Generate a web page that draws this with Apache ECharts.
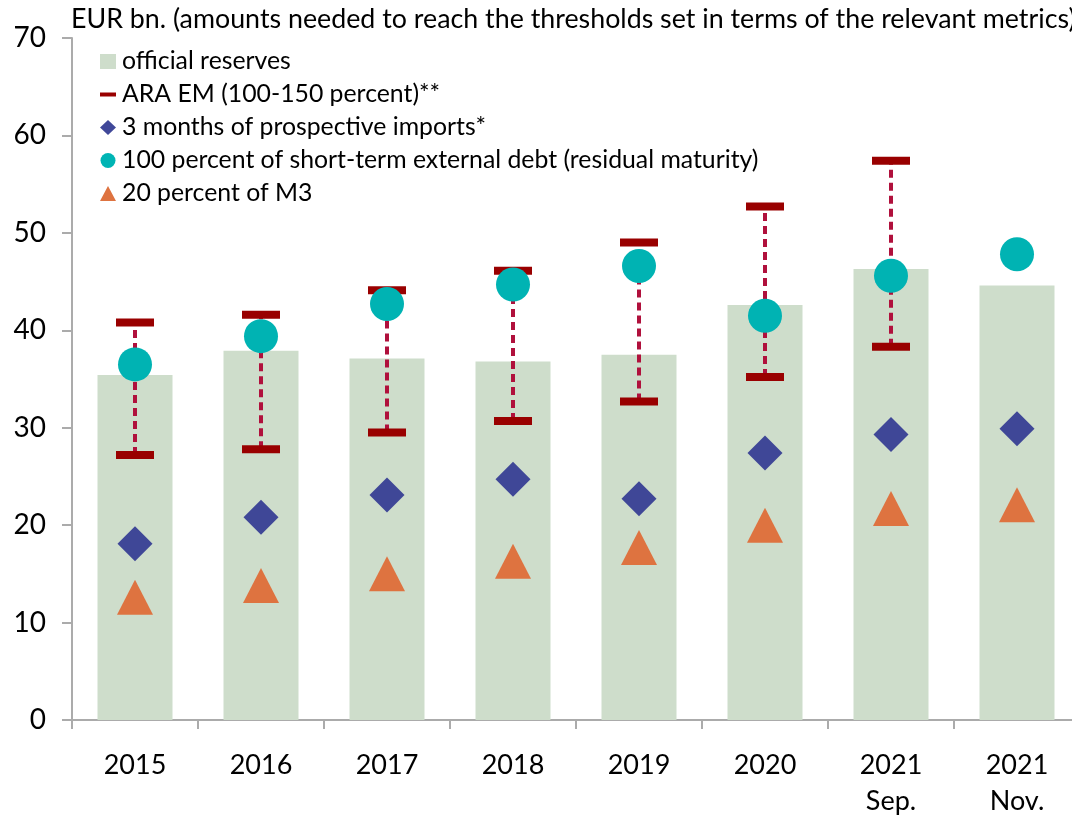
<!DOCTYPE html>
<html>
<head>
<meta charset="utf-8">
<script src="https://cdn.jsdelivr.net/npm/echarts@6/dist/echarts.min.js"></script>
<style>
html,body{margin:0;padding:0;background:#fff;}
#chart{width:1072px;height:816px;}
</style>
</head>
<body>
<div id="chart"></div>
<script>
var categories = ['2015','2016','2017','2018','2019','2020','2021\nSep.','2021\nNov.'];
var officialReserves = [35.4, 37.9, 37.1, 36.8, 37.5, 42.6, 46.3, 44.6];
var araLow  = [27.2, 27.8, 29.5, 30.7, 32.7, 35.2, 38.3, null];
var araHigh = [40.8, 41.6, 44.1, 46.1, 49.0, 52.7, 57.4, null];
var imports3m = [18.1, 20.8, 23.1, 24.7, 22.7, 27.4, 29.3, 29.9];
var stDebt = [36.5, 39.4, 42.7, 44.7, 46.6, 41.5, 45.6, 47.8];
var m3_20 = [12.6, 13.8, 15.0, 16.3, 17.7, 20.0, 21.7, 22.1];
var yTicks = [0, 10, 20, 30, 40, 50, 60, 70];

var names = {
  res: 'official reserves',
  ara: 'ARA EM (100-150 percent)**',
  imp: '3 months of prospective imports*',
  std: '100 percent of short-term external debt (residual maturity)',
  m3: '20 percent of M3'
};

var araData = [];
for (var i = 0; i < categories.length; i++) {
  if (araLow[i] != null && araHigh[i] != null) araData.push([i, araLow[i], araHigh[i]]);
}

var FONT = 'Lato';
var chart = echarts.init(document.getElementById('chart'), null, {renderer: 'canvas'});
chart.setOption({
  animation: false,
  backgroundColor: '#ffffff',
  textStyle: {fontFamily: FONT},
  title: {
    text: 'EUR bn. (amounts needed to reach the thresholds set in terms of the relevant metrics)',
    left: 66, top: 1,
    textStyle: {fontFamily: FONT, fontSize: 26.8, fontWeight: 'normal', color: '#000'}
  },
  legend: {
    orient: 'vertical',
    left: 95, top: 44,
    itemWidth: 16, itemHeight: 15,
    itemGap: 8,
    selectedMode: false,
    textStyle: {fontFamily: FONT, fontSize: 24.8, lineHeight: 25, color: '#000', padding: [0,0,0,1]},
    data: [
      {name: names.res, icon: 'rect', itemStyle: {color: '#CEDDCB'}},
      {name: names.ara, icon: 'path://M0,0h16v4h-16z', itemStyle: {color: '#990000'}},
      {name: names.imp, icon: 'diamond', itemStyle: {color: '#404899'}},
      {name: names.std, icon: 'circle', itemStyle: {color: '#00B4B4'}},
      {name: names.m3, icon: 'triangle', itemStyle: {color: '#DE7340'}}
    ]
  },
  grid: {left: 72, top: 38, width: 1008, height: 682, outerBoundsMode: 'none', containLabel: false},
  xAxis: {
    type: 'category',
    data: categories,
    axisLine: {lineStyle: {color: '#ABABAB', width: 2}},
    axisTick: {show: true, length: 9, lineStyle: {color: '#ABABAB', width: 2}},
    axisLabel: {fontFamily: FONT, fontSize: 27, color: '#000', margin: 27, lineHeight: 36},
    splitLine: {show: false}
  },
  yAxis: {
    type: 'value',
    min: 0, max: 70, interval: 10,
    axisLine: {show: true, lineStyle: {color: '#ABABAB', width: 2}},
    axisTick: {show: true, length: 10, lineStyle: {color: '#ABABAB', width: 2}},
    axisLabel: {fontFamily: FONT, fontSize: 28, color: '#000', margin: 26,
      formatter: function (v) { return yTicks.indexOf(v) >= 0 ? String(v) : ''; }},
    splitLine: {show: false}
  },
  series: [
    {
      name: names.res, type: 'bar', data: officialReserves, barWidth: 75,
      itemStyle: {color: '#CEDDCB', opacity: 1}, z: 1
    },
    {
      name: names.ara, type: 'custom', data: araData, z: 2,
      encode: {x: 0, y: [1, 2]},
      itemStyle: {color: '#990000'},
      renderItem: function (params, api) {
        var x = api.value(0);
        var pl = api.coord([x, api.value(1)]);
        var ph = api.coord([x, api.value(2)]);
        var cw = 38, ch = 8;
        return {
          type: 'group',
          children: [
            {type: 'line', shape: {x1: pl[0], y1: pl[1], x2: ph[0], y2: ph[1]},
             style: {stroke: '#B0103C', lineWidth: 4, lineDash: [8, 5]}},
            {type: 'rect', shape: {x: ph[0] - cw / 2, y: ph[1] - ch / 2, width: cw, height: ch},
             style: {fill: '#990000'}},
            {type: 'rect', shape: {x: pl[0] - cw / 2, y: pl[1] - ch / 2, width: cw, height: ch},
             style: {fill: '#990000'}}
          ]
        };
      }
    },
    {
      name: names.imp, type: 'scatter', data: imports3m, symbol: 'diamond', symbolSize: [35, 35],
      itemStyle: {color: '#3F4797', opacity: 1}, z: 3
    },
    {
      name: names.std, type: 'scatter', data: stDebt, symbol: 'circle', symbolSize: 34,
      itemStyle: {color: '#00B3B3', opacity: 1}, z: 4
    },
    {
      name: names.m3, type: 'scatter', data: m3_20, symbol: 'triangle', symbolSize: [36, 35],
      itemStyle: {color: '#DE7340', opacity: 1}, z: 5
    }
  ]
});
</script>
</body>
</html>
